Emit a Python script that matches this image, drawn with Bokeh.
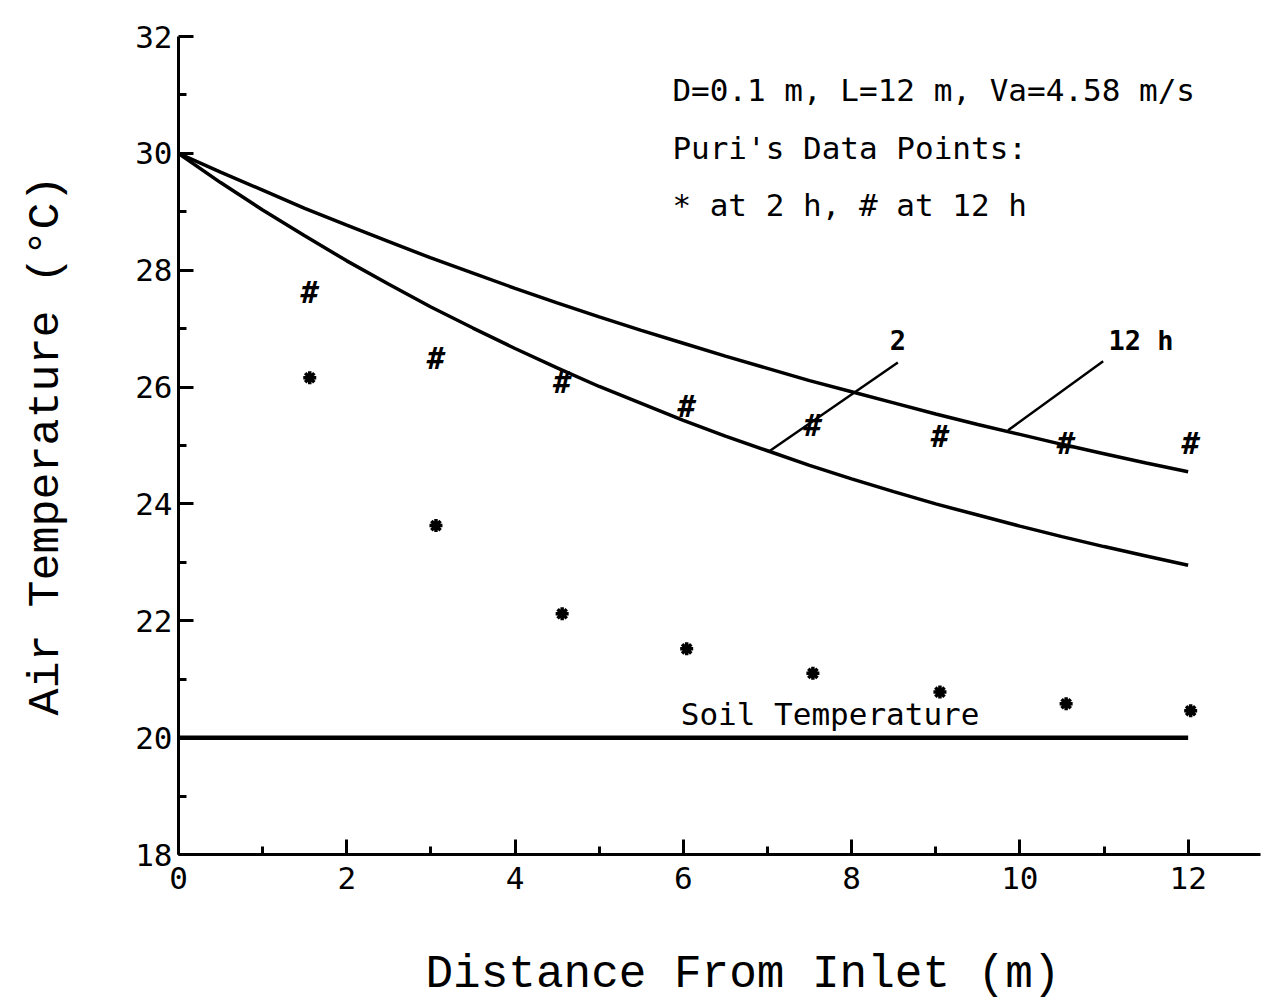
from bokeh.plotting import figure
from bokeh.models import Range1d, FixedTicker, Label, Title
from bokeh.core.properties import value
from bokeh.embed import file_html
from bokeh.resources import INLINE

# ---------------- data ----------------
# model curves (distance in m, air temperature in C)
curve_x = [0, 0.5, 1, 1.5, 2, 2.5, 3, 3.5, 4, 4.5, 5, 5.5, 6, 6.5, 7, 7.5, 8,
           8.5, 9, 9.5, 10, 10.5, 11, 11.5, 12]
curve_2h = [30.00, 29.50, 29.03, 28.59, 28.16, 27.76, 27.37, 27.01, 26.66,
            26.33, 26.01, 25.72, 25.43, 25.16, 24.91, 24.66, 24.43, 24.21,
            24.00, 23.81, 23.62, 23.44, 23.27, 23.11, 22.95]
curve_12h = [30.00, 29.68, 29.37, 29.06, 28.77, 28.49, 28.21, 27.95, 27.69,
             27.44, 27.20, 26.97, 26.75, 26.53, 26.32, 26.11, 25.92, 25.73,
             25.54, 25.36, 25.19, 25.02, 24.86, 24.70, 24.55]

# soil temperature line
soil_x = [0, 12]
soil_t = [20, 20]

# Puri's data points
pts_x = [1.56, 3.06, 4.56, 6.04, 7.54, 9.05, 10.55, 12.03]
pts_2h = [26.16, 23.63, 22.12, 21.52, 21.10, 20.78, 20.58, 20.46]
pts_12h = [27.67, 26.54, 26.13, 25.72, 25.40, 25.20, 25.09, 25.09]

# ticks
x_ticks = [0, 2, 4, 6, 8, 10, 12]
x_minor = [1, 3, 5, 7, 9, 11]
y_ticks = [18, 20, 22, 24, 26, 28, 30, 32]
y_minor = [19, 21, 23, 25, 27, 29, 31]

# annotation leader lines (curve label pointers)
lead_x0 = [7.03, 9.86]
lead_y0 = [24.91, 25.26]
lead_x1 = [8.55, 10.99]
lead_y1 = [26.42, 26.44]

MONO = "DejaVu Sans Mono"

p = figure(width=1262, height=1001, output_backend="svg", toolbar_location=None,
           x_range=Range1d(0, 12.86), y_range=Range1d(18, 32),
           min_border_left=178, min_border_right=2, min_border_top=36,
           min_border_bottom=147)
p.outline_line_color = None
p.grid.visible = False
p.background_fill_color = "white"
p.border_fill_color = "white"

for ax, tk, mn in ((p.xaxis[0], x_ticks, x_minor), (p.yaxis[0], y_ticks, y_minor)):
    ax.ticker = FixedTicker(ticks=tk, minor_ticks=mn)
    ax.axis_line_width = 3
    ax.axis_line_color = "black"
    ax.major_tick_line_width = 3
    ax.minor_tick_line_width = 3
    ax.major_tick_line_color = "black"
    ax.minor_tick_line_color = "black"
    ax.major_tick_in = 15
    ax.major_tick_out = 0
    ax.minor_tick_in = 8
    ax.minor_tick_out = 0
    ax.major_label_text_font = MONO
    ax.major_label_text_font_size = "31px"
    ax.major_label_text_color = "black"
p.yaxis[0].bounds = (18, 32)
p.yaxis[0].major_label_standoff = 6
p.xaxis[0].major_label_standoff = 12

# y axis title
p.yaxis[0].axis_label = "Air Temperature (°C)"
p.yaxis[0].axis_label_text_font = "Liberation Mono"
p.yaxis[0].axis_label_text_font_size = "45px"
p.yaxis[0].axis_label_text_font_style = "normal"
p.yaxis[0].axis_label_text_color = "black"
p.yaxis[0].axis_label_standoff = 60

# blank spacer under the x tick labels, so that the title sits at the bottom
p.xaxis[0].axis_label = " "
p.xaxis[0].axis_label_text_font_size = "10px"
p.xaxis[0].axis_label_standoff = 41

# x axis title as a below-title so it can be offset like the original
p.add_layout(Title(text="Distance From Inlet (m)", align="left", offset=247,
                   standoff=0, text_font="Liberation Mono",
                   text_font_size="46px", text_font_style="normal",
                   text_color="black"), "below")

# curves
p.line(curve_x, curve_2h, line_width=3.5, line_color="black")
p.line(curve_x, curve_12h, line_width=3.5, line_color="black")
p.line(soil_x, soil_t, line_width=4.5, line_color="black")

# leader lines
p.segment(x0=lead_x0, y0=lead_y0, x1=lead_x1, y1=lead_y1,
          line_width=2.5, line_color="black")

# data points
p.scatter(pts_x, pts_2h, marker="asterisk", size=13, line_width=3.5,
          line_color="black")
p.text(pts_x, pts_12h, text=value("#"), text_font=value(MONO),
       text_font_style="bold italic", text_font_size="30px",
       text_align="center", text_baseline="middle", y_offset=3,
       text_color="black")

# curve labels
p.add_layout(Label(x=8.55, y=26.8, text="2", text_font=MONO,
                   text_font_style="bold", text_font_size="27px",
                   text_color="black",
                   text_align="center", text_baseline="middle"))
p.add_layout(Label(x=11.44, y=26.8, text="12 h", text_font=MONO,
                   text_font_style="bold", text_font_size="27px",
                   text_color="black",
                   text_align="center", text_baseline="middle"))
p.add_layout(Label(x=5.97, y=20.41, text="Soil Temperature", text_font=MONO,
                   text_font_size="31px", text_color="black",
                   text_baseline="alphabetic"))

# info block
info = ["D=0.1 m, L=12 m, Va=4.58 m/s", "Puri's Data Points:", "* at 2 h,  # at 12 h"]
info_y = [31.08, 30.10, 29.11]
for t, yy in zip(info, info_y):
    p.add_layout(Label(x=5.87, y=yy, text=t, text_font=MONO,
                       text_font_size="31px", text_color="black",
                       text_baseline="alphabetic"))

open("out.html", "w").write(file_html(p, INLINE))
